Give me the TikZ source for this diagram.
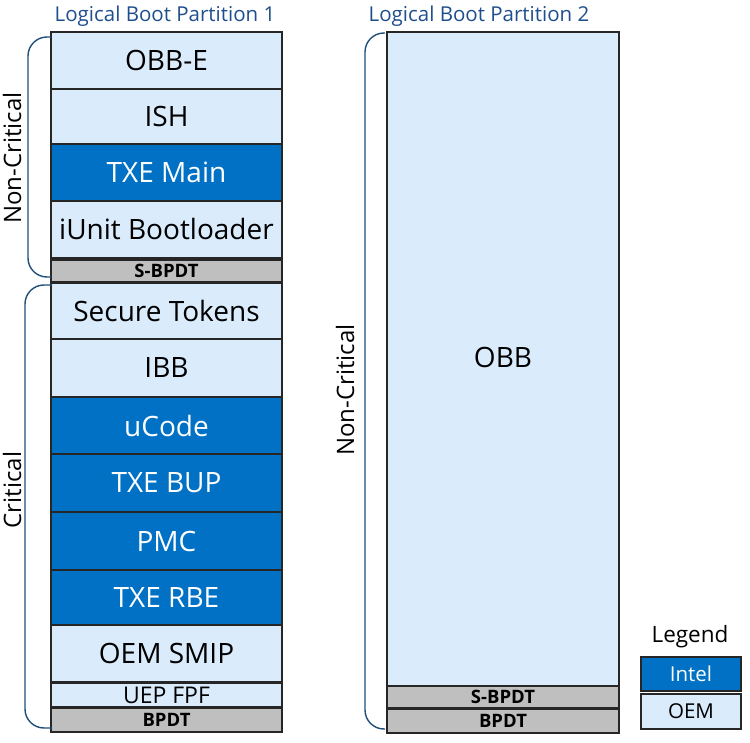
\documentclass[tikz,border=0pt]{standalone}
\usepackage{fontspec}
\setmainfont{Open Sans}
\definecolor{intelblue}{HTML}{0071C5}
\definecolor{oemblue}{HTML}{DAEBFC}
\definecolor{bpdtgray}{HTML}{BFBFBF}
\definecolor{titleblue}{HTML}{1F4E8C}
\definecolor{bracecol}{HTML}{1F4E79}
\begin{document}
\begin{tikzpicture}[x=1pt,y=-1pt,
  seg/.style={draw=black!85, line width=1.4pt, inner sep=0pt, outer sep=0pt, font=\fontsize{28}{30}\selectfont},
  oem/.style={seg, fill=oemblue, text=black},
  intel/.style={seg, fill=intelblue, text=white},
  bpdt/.style={seg, fill=bpdtgray, text=black, font=\fontsize{18.5}{20}\selectfont\bfseries},
  lcol/.style={minimum width=231},
  rcol/.style={minimum width=232},
  title/.style={text=titleblue, font=\fontsize{20.5}{23}\selectfont},
  side/.style={rotate=90, font=\fontsize{24}{26}\selectfont},
  bracket/.style={draw=bracecol, line width=1.4pt, rounded corners=19}]
\useasboundingbox (0,0) rectangle (750,743);
% titles
\node[title] (t1) at (165,16) {Logical Boot Partition 1};
\node[title] (t2) at (479,16) {Logical Boot Partition 2};
% left column
\node[oem,lcol,minimum height=57] (obbe) at (166.5,60.5) {OBB-E};
\node[oem,lcol,minimum height=55] (ish) at (166.5,116.5) {ISH};
\node[intel,lcol,minimum height=57] (txemain) at (166.5,172.5) {TXE Main};
\node[oem,lcol,minimum height=57] (iunit) at (166.5,229.5) {iUnit Bootloader};
\node[bpdt,lcol,minimum height=22] (sbpdt1) at (166.5,271) {S-BPDT};
\node[oem,lcol,minimum height=56] (sectok) at (166.5,311) {Secure Tokens};
\node[oem,lcol,minimum height=58] (ibb) at (166.5,368) {IBB};
\node[intel,lcol,minimum height=57] (ucode) at (166.5,425.5) {uCode};
\node[intel,lcol,minimum height=58] (txebup) at (166.5,483) {TXE BUP};
\node[intel,lcol,minimum height=58] (pmc) at (166.5,541) {PMC};
\node[intel,lcol,minimum height=55] (txerbe) at (166.5,597.5) {TXE RBE};
\node[oem,lcol,minimum height=57] (oemsmip) at (166.5,653.5) {OEM SMIP};
\node[oem,lcol,minimum height=24,font=\fontsize{23}{24}\selectfont] (uepfpf) at (166.5,695) {UEP FPF};
\node[bpdt,lcol,minimum height=24] (bpdt1) at (166.5,720) {BPDT};
% right column
\node[oem,rcol,minimum height=654,text height=0pt] (obbbox) at (503,359) {};
\node[font=\fontsize{28}{30}\selectfont] (obb) at (503,357) {OBB};
\node[bpdt,rcol,minimum height=22] (sbpdt2) at (503,697) {S-BPDT};
\node[bpdt,rcol,minimum height=24] (bpdt2) at (503,721) {BPDT};
% legend
\node[font=\fontsize{22.5}{25}\selectfont] (legend) at (690,637) {Legend};
\node[intel,minimum width=100,minimum height=34,font=\fontsize{20.5}{23}\selectfont] (lintel) at (691,674) {Intel};
\node[oem,minimum width=100,minimum height=35,font=\fontsize{20.5}{23}\selectfont] (loem) at (691,711.5) {OEM};
% brackets
\coordinate (b1s) at (51,37); \coordinate (b1e) at (51,277);
\coordinate (b2s) at (52,285); \coordinate (b2e) at (52,728);
\coordinate (b3s) at (385,33); \coordinate (b3e) at (385,729);
\draw[bracket] (b1s) -- (28,37) -- (28,277) -- (b1e);
\draw[bracket] (b2s) -- (25,285) -- (25,728) -- (b2e);
\draw[bracket] (b3s) -- (365,33) -- (365,729) -- (b3e);
% side labels
\node[side] (nc1) at (12,158) {Non-Critical};
\node[side] (cr1) at (12,490) {Critical};
\node[side] (nc2) at (345,390) {Non-Critical};
\end{tikzpicture}
\end{document}
